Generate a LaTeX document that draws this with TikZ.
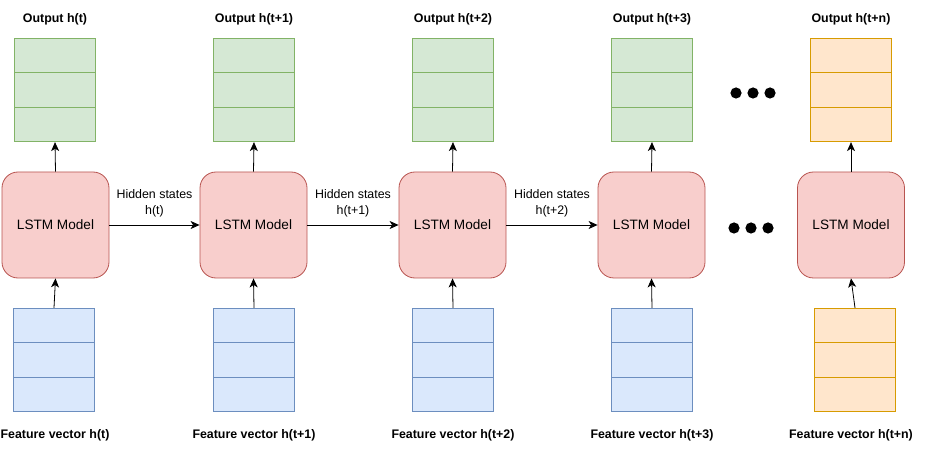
\documentclass[tikz,border=0pt]{standalone}
\usepackage{fontspec}
\setmainfont{Liberation Sans}
\usepackage{xcolor}
\usetikzlibrary{arrows.meta, shapes.multipart, calc, positioning}

\definecolor{outfill}{HTML}{D5E8D4}
\definecolor{outline}{HTML}{82B366}
\definecolor{lstmfill}{HTML}{F8CECC}
\definecolor{lstmline}{HTML}{B85450}
\definecolor{featfill}{HTML}{DAE8FC}
\definecolor{featline}{HTML}{6C8EBF}
\definecolor{lastfill}{HTML}{FFE6CC}
\definecolor{lastline}{HTML}{D79B00}

\tikzset{
    stack/.style={rectangle split, rectangle split parts=3, minimum width=81pt,
        inner xsep=0pt, inner ysep=14.2pt, line width=0.8pt},
    outstack/.style={stack, fill=outfill, draw=outline},
    featstack/.style={stack, fill=featfill, draw=featline},
    laststack/.style={stack, fill=lastfill, draw=lastline},
    lstm/.style={rectangle, rounded corners=16pt, fill=lstmfill, draw=lstmline,
        line width=0.8pt, minimum width=107pt, minimum height=106pt,
        font=\fontsize{13.6}{16}\selectfont},
    caption/.style={font=\bfseries\fontsize{12.4}{15}\selectfont},
    hidden/.style={align=center, font=\fontsize{12.4}{16}\selectfont, inner sep=3pt},
    flow/.style={-{Stealth[length=9pt, width=8pt, inset=2.5pt]}, line width=0.8pt}
}

\begin{document}
\begin{tikzpicture}[x=1pt, y=-1pt]
    \useasboundingbox (0, 0) rectangle (935, 457);
    % outputs
    \node[outstack] (out1) at (55, 90) {};
    \node[outstack] (out2) at (254, 90) {};
    \node[outstack] (out3) at (453, 90) {};
    \node[outstack] (out4) at (652, 90) {};
    \node[laststack] (out5) at (851, 90) {};
    \node[caption] (cap1) at (55, 19) {Output h(t)};
    \node[caption] (cap2) at (254, 19) {Output h(t+1)};
    \node[caption] (cap3) at (453, 19) {Output h(t+2)};
    \node[caption] (cap4) at (652, 19) {Output h(t+3)};
    \node[caption] (cap5) at (851, 19) {Output h(t+n)};
    % models
    \node[lstm] (lstm1) at (55.5, 225) {LSTM Model};
    \node[lstm] (lstm2) at (253.5, 225) {LSTM Model};
    \node[lstm] (lstm3) at (452.5, 225) {LSTM Model};
    \node[lstm] (lstm4) at (651.5, 225) {LSTM Model};
    \node[lstm] (lstm5) at (851, 225) {LSTM Model};
    % inputs
    \node[featstack] (feat1) at (54, 360) {};
    \node[featstack] (feat2) at (254, 360) {};
    \node[featstack] (feat3) at (453, 360) {};
    \node[featstack] (feat4) at (652, 360) {};
    \node[laststack] (feat5) at (855, 360) {};
    \node[caption] (in1) at (55, 435) {Feature vector h(t)};
    \node[caption] (in2) at (254, 435) {Feature vector h(t+1)};
    \node[caption] (in3) at (453, 435) {Feature vector h(t+2)};
    \node[caption] (in4) at (652, 435) {Feature vector h(t+3)};
    \node[caption] (in5) at (851, 435) {Feature vector h(t+n)};
    % connectors
    \draw
    (lstm1.north) edge[flow] (out1.south)
    (lstm2.north) edge[flow] (out2.south)
    (lstm3.north) edge[flow] (out3.south)
    (lstm4.north) edge[flow] (out4.south)
    (lstm5.north) edge[flow] (out5.south)
    (feat1.north) edge[flow] (lstm1.south)
    (feat2.north) edge[flow] (lstm2.south)
    (feat3.north) edge[flow] (lstm3.south)
    (feat4.north) edge[flow] (lstm4.south)
    (feat5.north) edge[flow] (lstm5.south)
    (lstm1.east) edge[flow] node[hidden, above=5pt] {Hidden states\\h(t)} (lstm2.west)
    (lstm2.east) edge[flow] node[hidden, above=5pt] {Hidden states\\h(t+1)} (lstm3.west)
    (lstm3.east) edge[flow] node[hidden, above=5pt] {Hidden states\\h(t+2)} (lstm4.west);
    % ellipsis dots
    \fill (736, 93) circle (5.6) (753, 93) circle (5.6) (770, 93) circle (5.6);
    \fill (734, 228) circle (5.6) (751, 228) circle (5.6) (768, 228) circle (5.6);
\end{tikzpicture}
\end{document}
